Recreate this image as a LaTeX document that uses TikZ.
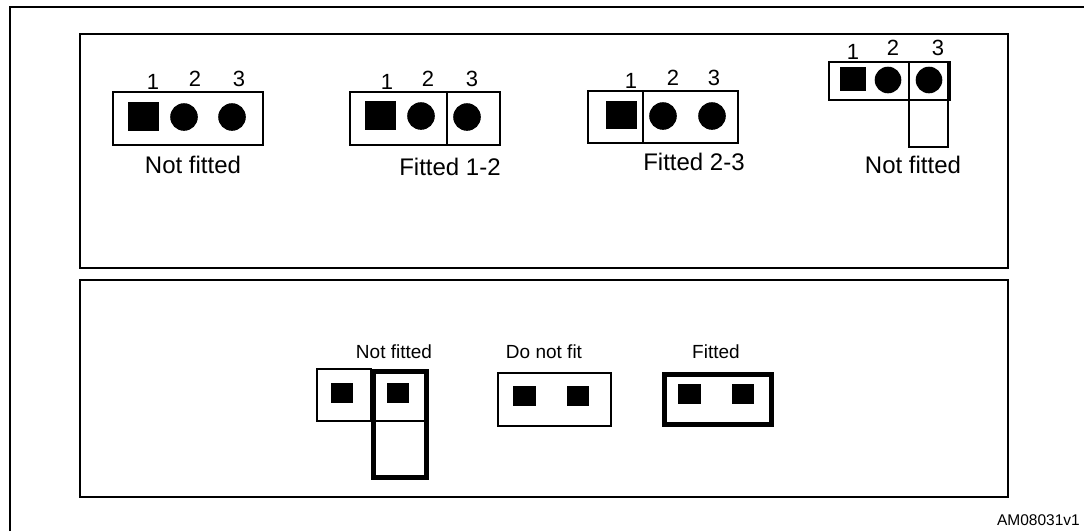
\documentclass[tikz,border=0pt]{standalone}
\usepackage{fontspec}
\setmainfont{Liberation Sans}
\begin{document}
\begin{tikzpicture}[x=1pt,y=-1pt,
  frame/.style={draw,line width=2.2pt},
  panel/.style={draw,line width=1.6pt},
  jbox/.style={draw,line width=1.4pt},
  jthick/.style={draw,line width=4.5pt},
  sqpin/.style={fill=black},
  num/.style={inner sep=0pt,font=\fontsize{22}{22}\selectfont},
  toplbl/.style={inner sep=0pt,font=\fontsize{24}{24}\selectfont},
  botlbl/.style={inner sep=0pt,font=\fontsize{19}{19}\selectfont},
  code/.style={inner sep=0pt,font=\fontsize{15.5}{15.5}\selectfont}]
\useasboundingbox (0,0) rectangle (1084,531);
% outer frame (only left and top visible)
\draw[frame] (10,531) -- (10,7) -- (1084,7);
% panels
\draw[panel] (80,34) rectangle (1008,268);
\draw[panel] (80,280) rectangle (1008,497);

% ---- top panel: jumper 1, Not fitted
\draw[jbox] (113,92) rectangle (263,145);
\fill[sqpin] (128,102) rectangle (159,131);
\fill (184,117) circle (13.8);
\fill (232,117) circle (13.8);
\node[num] (a1) at (153,82) {1};
\node[num] (a2) at (195,79) {2};
\node[num] (a3) at (239,79) {3};
\node[toplbl] (la) at (193,165) {Not fitted};

% ---- jumper 2, Fitted 1-2
\draw[jbox] (350,92) rectangle (500,145);
\draw[jbox] (447,92) -- (447,145);
\fill[sqpin] (365,101) rectangle (396,130);
\fill (421,116) circle (13.8);
\fill (467,117) circle (13.8);
\node[num] (b1) at (387,82) {1};
\node[num] (b2) at (428,79) {2};
\node[num] (b3) at (472,79) {3};
\node[toplbl] (lb) at (450,167) {Fitted 1-2};

% ---- jumper 3, Fitted 2-3
\draw[jbox] (588,91) rectangle (738,143);
\draw[jbox] (643,91) -- (643,143);
\fill[sqpin] (606,101) rectangle (637,129);
\fill (663,116) circle (13.8);
\fill (712,116) circle (13.8);
\node[num] (c1) at (631,81) {1};
\node[num] (c2) at (673,78) {2};
\node[num] (c3) at (714,78) {3};
\node[toplbl] (lc) at (694,162) {Fitted 2-3};

% ---- jumper 4, Not fitted (perpendicular)
\draw[jbox] (829,62) rectangle (950,100);
\draw[jbox] (909,62) rectangle (948,147);
\fill[sqpin] (840,67) rectangle (866,91);
\fill (888,80) circle (13.3);
\fill (929,80) circle (13.3);
\node[num] (d1) at (853,52) {1};
\node[num] (d2) at (893,48) {2};
\node[num] (d3) at (938,48) {3};
\node[toplbl] (ld) at (913,165) {Not fitted};

% ---- bottom panel: Not fitted
\node[botlbl] (le) at (394,352) {Not fitted};
\draw[jbox] (317,369) rectangle (371,421);
\fill[sqpin] (331,383) rectangle (353,403);
\draw[jthick] (373.5,371.5) rectangle (426.5,477.5);
\draw[line width=2pt] (371,421) -- (429,421);
\fill[sqpin] (387,383) rectangle (409,403);

% ---- Do not fit
\node[botlbl] (lf) at (544,352) {Do not fit};
\draw[jbox] (498,373) rectangle (611,426);
\fill[sqpin] (513,386) rectangle (536,406);
\fill[sqpin] (567,386) rectangle (589,406);

% ---- Fitted
\node[botlbl] (lg) at (716,352) {Fitted};
\draw[jthick] (664.5,374.5) rectangle (771.5,424.5);
\fill[sqpin] (678,384) rectangle (701,404);
\fill[sqpin] (732,384) rectangle (754,404);

\node[code,anchor=east] (id) at (1080,520) {AM08031v1};
\end{tikzpicture}
\end{document}
